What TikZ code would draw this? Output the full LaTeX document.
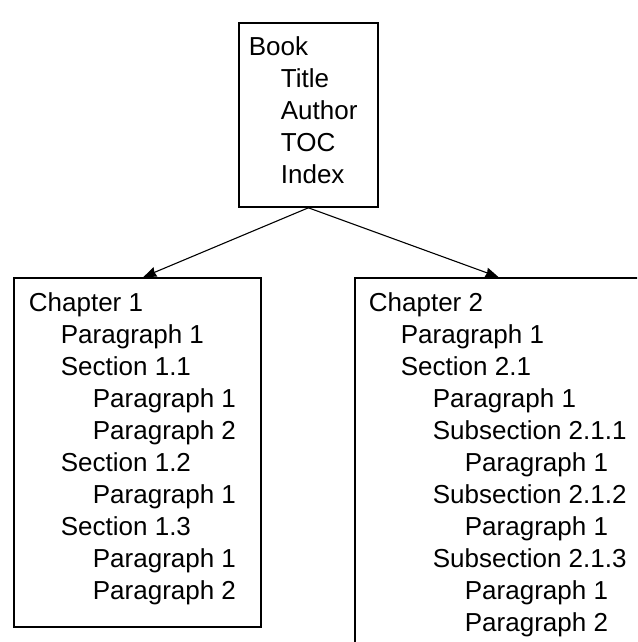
\documentclass[tikz,border=0pt]{standalone}
\usepackage{fontspec}
\setmainfont{Liberation Sans}
\usetikzlibrary{arrows.meta, positioning}
\newcommand{\indt}{\hspace*{32pt}}

\begin{document}
\begin{tikzpicture}[
    x=1pt, y=-1pt,
    box/.style={rectangle, draw, line width=1.8pt, anchor=north west, inner xsep=14pt, inner ysep=15pt},
    arrow/.style={line width=1.1pt, -{Stealth[length=13pt, width=10pt, inset=1pt]}}
]
\clip (0,0) rectangle (637,642);
\fill[white] (0,0) rectangle (637,642);

% Nodes
\node (book) [box, inner xsep=10pt, inner ysep=14pt] at (238,22) {\parbox[t][156pt][t]{119pt}{\fontsize{26}{32}\selectfont
Book\\
\indt Title\\
\indt Author\\
\indt TOC\\
\indt Index}};
\node (ch1) [box, inner xsep=15pt] at (13,277) {\parbox[t][319pt][t]{217pt}{\fontsize{26}{32}\selectfont
Chapter 1\\
\indt Paragraph 1\\
\indt Section 1.1\\
\indt\indt Paragraph 1\\
\indt\indt Paragraph 2\\
\indt Section 1.2\\
\indt\indt Paragraph 1\\
\indt Section 1.3\\
\indt\indt Paragraph 1\\
\indt\indt Paragraph 2}};
\node (ch2) [box] at (354,277) {\parbox[t][383pt][t]{259pt}{\fontsize{26}{32}\selectfont
Chapter 2\\
\indt Paragraph 1\\
\indt Section 2.1\\
\indt\indt Paragraph 1\\
\indt\indt Subsection 2.1.1\\
\indt\indt\indt Paragraph 1\\
\indt\indt Subsection 2.1.2\\
\indt\indt\indt Paragraph 1\\
\indt\indt Subsection 2.1.3\\
\indt\indt\indt Paragraph 1\\
\indt\indt\indt Paragraph 2}};

% Arrows
\draw [arrow] (book.south) -- ([xshift=6pt]ch1.north);
\draw [arrow] (book.south) -- (ch2.north);

\end{tikzpicture}
\end{document}
